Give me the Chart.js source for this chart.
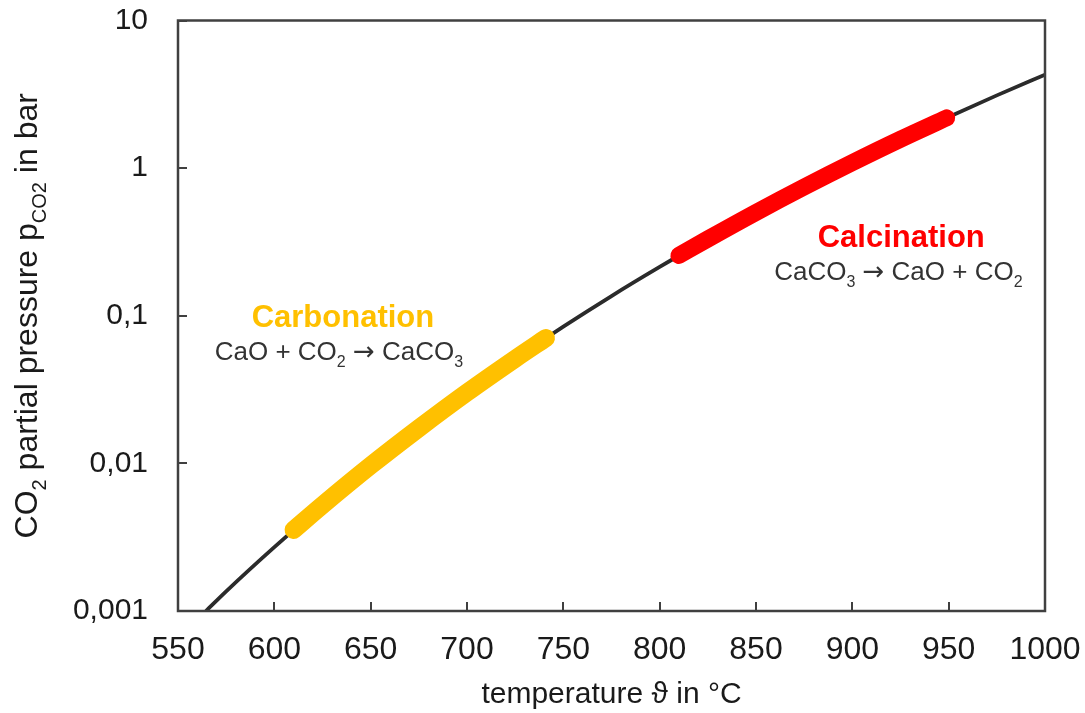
<!DOCTYPE html>
<html>
<head>
<meta charset="utf-8">
<style>
html, body { margin: 0; padding: 0; background: #fff; }
#wrap { width: 1085px; height: 713px; }
</style>
</head>
<body>
<div id="wrap"><canvas id="chart" width="1085" height="713"></canvas></div>
<script src="https://cdn.jsdelivr.net/npm/chart.js@4/dist/chart.umd.min.js"></script>
<script>
// equilibrium curve CaCO3 <-> CaO + CO2
const curveTemps = [564.5, 575, 600, 625, 650, 675, 700, 725, 750, 775, 800, 825, 850, 875, 900, 925, 950, 975, 1000];
const curvePressures = [0.001, 0.00136, 0.00271, 0.00521, 0.00966, 0.0173, 0.0302, 0.0511, 0.0844, 0.136, 0.214, 0.331, 0.501, 0.745, 1.09, 1.57, 2.22, 3.11, 4.29];

// carbonation range (yellow)
const carbTemps = [610, 625, 650, 675, 700, 725, 741];
const carbPressures = [0.00354, 0.00521, 0.00966, 0.0173, 0.0302, 0.0511, 0.0707];

// calcination range (red)
const calcTemps = [810, 825, 850, 875, 900, 925, 949];
const calcPressures = [0.256, 0.331, 0.501, 0.745, 1.09, 1.57, 2.19];

// axes
const xTicks = [550, 600, 650, 700, 750, 800, 850, 900, 950, 1000];
const yTicks = [0.001, 0.01, 0.1, 1, 10];
const yTickLabels = ['0,001', '0,01', '0,1', '1', '10'];

const FONT = '"Liberation Sans", Arial, sans-serif';
const ARROW_FONT = '"DejaVu Sans", sans-serif';
const INK = '#1a1a1a';
const AXIS = '#404040';

function pairs(xs, ys) {
    return xs.map((x, i) => ({ x: x, y: ys[i] }));
}

// text with subscripts: parts = [[text, isSub, family?], ...], centered on x, baseline y
function drawRich(ctx, parts, x, y, size, weight, color) {
    ctx.save();
    ctx.fillStyle = color;
    ctx.textBaseline = 'alphabetic';
    ctx.textAlign = 'left';
    const fontFor = (p) => weight + ' ' + (p[1] ? Math.round(size * 0.62) : size) + 'px ' + (p[2] || FONT);
    let total = 0;
    parts.forEach(p => { ctx.font = fontFor(p); total += ctx.measureText(p[0]).width; });
    let cx = x - total / 2;
    parts.forEach(p => {
        ctx.font = fontFor(p);
        ctx.fillText(p[0], cx, y + (p[1] ? size * 0.28 : 0));
        cx += ctx.measureText(p[0]).width;
    });
    ctx.restore();
}

// labels on the plot, anchored in data coordinates
const notes = [
    { x: 635.6, y: 0.0838, parts: [['Carbonation', false]], size: 31, weight: 'bold', color: '#FFC000' },
    { x: 633.5, y: 0.0501, parts: [['CaO + CO', false], ['2', true], [' ', false], ['\u2192', false, ARROW_FONT], [' CaCO', false], ['3', true]], size: 26, weight: 'normal', color: '#333333' },
    { x: 925.4, y: 0.2935, parts: [['Calcination', false]], size: 31, weight: 'bold', color: '#FF0000' },
    { x: 923.9, y: 0.1746, parts: [['CaCO', false], ['3', true], [' ', false], ['\u2192', false, ARROW_FONT], [' CaO + CO', false], ['2', true]], size: 26, weight: 'normal', color: '#333333' }
];

const framePlugin = {
    id: 'frame',
    afterDraw(chart) {
        const ctx = chart.ctx;
        const a = chart.chartArea;
        ctx.save();
        ctx.strokeStyle = AXIS;
        ctx.lineWidth = 2.5;
        ctx.strokeRect(a.left, a.top, a.right - a.left, a.bottom - a.top);
        ctx.restore();

        // y axis title, rotated
        ctx.save();
        ctx.translate(37, (a.top + a.bottom) / 2);
        ctx.rotate(-Math.PI / 2);
        drawRich(ctx, [['CO', false], ['2', true], [' partial pressure p', false], ['CO2', true], [' in bar', false]], 0, 0, 32, 'normal', INK);
        ctx.restore();

        const xs = chart.scales.x;
        const ys = chart.scales.y;
        notes.forEach(n => {
            drawRich(ctx, n.parts, xs.getPixelForValue(n.x), ys.getPixelForValue(n.y), n.size, n.weight, n.color);
        });
    }
};

// fixed axis box sizes, no extra label padding
function noPad(scale) {
    scale.paddingTop = 0;
    scale.paddingBottom = 0;
    scale.paddingLeft = 0;
    scale.paddingRight = 0;
}

new Chart(document.getElementById('chart'), {
    type: 'line',
    data: {
        datasets: [
            {
                data: pairs(carbTemps, carbPressures),
                borderColor: '#FFC000',
                borderWidth: 18,
                borderCapStyle: 'round',
                borderJoinStyle: 'round',
                cubicInterpolationMode: 'monotone',
                pointRadius: 0,
                order: 1
            },
            {
                data: pairs(calcTemps, calcPressures),
                borderColor: '#FF0000',
                borderWidth: 17,
                borderCapStyle: 'round',
                borderJoinStyle: 'round',
                cubicInterpolationMode: 'monotone',
                pointRadius: 0,
                order: 1
            },
            {
                data: pairs(curveTemps, curvePressures),
                borderColor: '#2b2b2b',
                borderWidth: 3.8,
                cubicInterpolationMode: 'monotone',
                pointRadius: 0,
                order: 3
            }
        ]
    },
    options: {
        responsive: false,
        animation: false,
        events: [],
        layout: { autoPadding: false, padding: { top: 20.5, right: 40, left: 0, bottom: 0 } },
        plugins: {
            legend: { display: false },
            tooltip: { enabled: false }
        },
        scales: {
            x: {
                type: 'linear',
                min: 550,
                max: 1000,
                afterBuildTicks: (scale) => { scale.ticks = xTicks.map(v => ({ value: v })); },
                afterFit: (scale) => { scale.height = 102; noPad(scale); },
                border: { display: false },
                grid: { drawOnChartArea: false, drawTicks: true, tickLength: -9, color: AXIS, lineWidth: 2 },
                ticks: { color: INK, font: { family: FONT, size: 32 }, padding: 29, maxRotation: 0, callback: (v) => String(v) },
                title: {
                    display: true,
                    text: 'temperature \u03D1 in \u00B0C',
                    color: INK,
                    font: { family: FONT, size: 30 },
                    padding: { top: 0, bottom: 0 }
                }
            },
            y: {
                type: 'logarithmic',
                min: 0.001,
                max: 10,
                afterBuildTicks: (scale) => { scale.ticks = yTicks.map(v => ({ value: v })); },
                afterFit: (scale) => { scale.width = 178; noPad(scale); },
                border: { display: false },
                grid: { drawOnChartArea: false, drawTicks: true, tickLength: -9, color: AXIS, lineWidth: 2 },
                ticks: {
                    color: INK,
                    font: { family: FONT, size: 30 },
                    padding: 39,
                    callback: (v) => yTickLabels[yTicks.indexOf(v)]
                }
            }
        }
    },
    plugins: [framePlugin]
});
</script>
</body>
</html>
